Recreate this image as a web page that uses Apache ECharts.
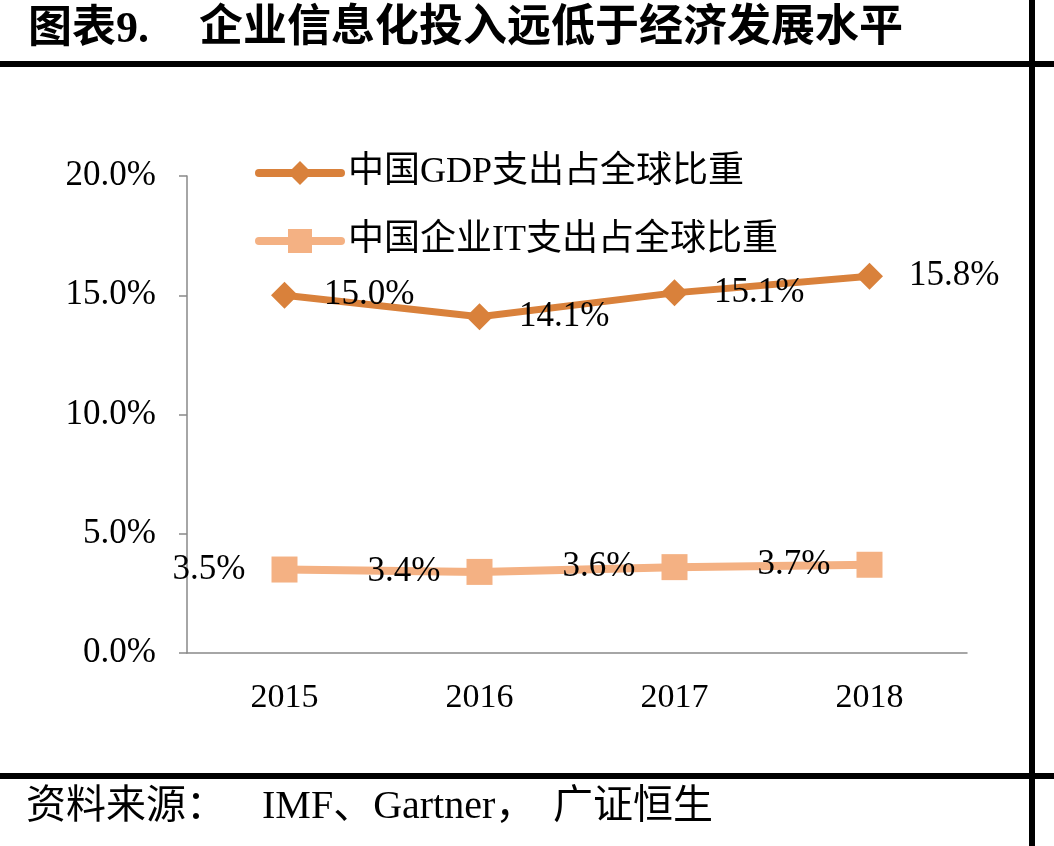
<!DOCTYPE html>
<html>
<head>
<meta charset="utf-8">
<style>
html,body{margin:0;padding:0;background:#fff;}
#chart{width:1054px;height:846px;}
</style>
<script src="https://cdn.jsdelivr.net/npm/echarts@6/dist/echarts.min.js"></script>
</head>
<body>
<div id="chart"></div>
<script>
const categories = ['2015', '2016', '2017', '2018'];
const gdpShare = [15.0, 14.1, 15.1, 15.8];
const itShare = [3.5, 3.4, 3.6, 3.7];
const seriesNames = ['中国GDP支出占全球比重', '中国企业IT支出占全球比重'];
const yTicks = { min: 0, max: 20, interval: 5 };
const titlePrefix = '图表9.';
const titleText = '企业信息化投入远低于经济发展水平';
const sourceLabel = '资料来源：';
const sourceParts = ['IMF、Gartner，', '广证恒生'];

const FONT = "'Liberation Serif', 'Noto Sans CJK SC', serif";
const TITLE_FONT = "'Liberation Serif', 'Noto Sans CJK SC', sans-serif";
const GDP_COLOR = '#D9813B';
const IT_COLOR = '#F4B183';

const chart = echarts.init(document.getElementById('chart'), null, { renderer: 'canvas' });
chart.setOption({
  backgroundColor: '#fff',
  animation: false,
  grid: { left: 187, right: 87, top: 176, bottom: 193, containLabel: false },
  legend: {
    orient: 'vertical',
    left: 250,
    top: 150,
    itemWidth: 82,
    itemHeight: 30,
    itemGap: 32,
    lineStyle: { width: 8, cap: 'round' },
    textStyle: { fontFamily: FONT, fontSize: 36, color: '#000', padding: [0, 0, 0, 2] },
    data: seriesNames
  },
  xAxis: {
    type: 'category',
    data: categories,
    boundaryGap: true,
    axisLine: { lineStyle: { color: '#898989', width: 1.5 } },
    axisTick: { show: false },
    axisLabel: { fontFamily: FONT, fontSize: 34, color: '#000', margin: 28 }
  },
  yAxis: {
    type: 'value',
    min: yTicks.min,
    max: yTicks.max,
    interval: yTicks.interval,
    splitLine: { show: false },
    axisLine: { show: true, lineStyle: { color: '#898989', width: 1.5 } },
    axisTick: { show: true, length: 8, lineStyle: { color: '#898989', width: 1.5 } },
    axisLabel: {
      fontFamily: FONT, fontSize: 35, color: '#000', margin: 31,
      formatter: v => v.toFixed(1) + '%'
    }
  },
  series: [
    {
      name: seriesNames[0],
      type: 'line',
      data: gdpShare,
      symbol: 'diamond',
      symbolSize: 27,
      lineStyle: { color: GDP_COLOR, width: 7 },
      itemStyle: { color: GDP_COLOR },
      label: {
        show: true, position: 'right', distance: 26,
        fontFamily: FONT, fontSize: 35, color: '#000',
        formatter: p => p.value.toFixed(1) + '%'
      },
      z: 3
    },
    {
      name: seriesNames[1],
      type: 'line',
      data: itShare,
      symbol: 'rect',
      symbolSize: 26,
      lineStyle: { color: IT_COLOR, width: 8 },
      itemStyle: { color: IT_COLOR },
      label: {
        show: true, position: 'left', distance: 26,
        fontFamily: FONT, fontSize: 35, color: '#000',
        formatter: p => p.value.toFixed(1) + '%'
      },
      z: 2
    }
  ],
  graphic: [
    { type: 'text', left: 28, top: 9, style: { text: titlePrefix, font: "bold 44px " + TITLE_FONT, fill: '#000' } },
    { type: 'text', left: 199, top: 8, style: { text: titleText, font: "bold 44px " + TITLE_FONT, fill: '#000' } },
    { type: 'rect', shape: { x: 0, y: 61, width: 1054, height: 6 }, style: { fill: '#000' } },
    { type: 'rect', shape: { x: 0, y: 773, width: 1054, height: 6 }, style: { fill: '#000' } },
    { type: 'rect', shape: { x: 1029, y: 0, width: 6, height: 846 }, style: { fill: '#000' } },
    { type: 'text', left: 26, top: 787, style: { text: sourceLabel, font: "40px " + FONT, fill: '#000' } },
    { type: 'text', left: 262, top: 787, style: { text: sourceParts[0], font: "40px " + FONT, fill: '#000' } },
    { type: 'text', left: 553, top: 787, style: { text: sourceParts[1], font: "40px " + FONT, fill: '#000' } }
  ]
});
</script>
</body>
</html>
